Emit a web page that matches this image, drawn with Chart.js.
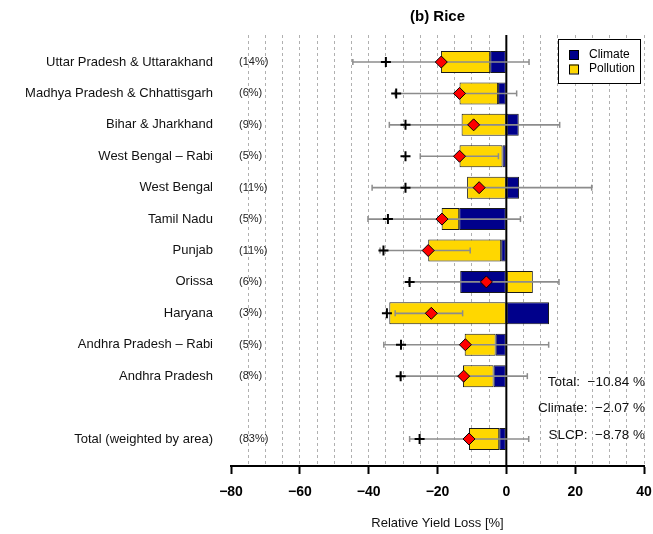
<!DOCTYPE html>
<html>
<head>
<meta charset="utf-8">
<script src="https://cdn.jsdelivr.net/npm/chart.js@4.4.1/dist/chart.umd.min.js"></script>
<style>
  html, body { margin: 0; padding: 0; background: #fff; }
  #wrap { width: 653px; height: 534px; }
</style>
</head>
<body>
<div id="wrap"><canvas id="rice"></canvas></div>
<script>
// panel (b) Rice - relative yield loss [%]
const regions = ['Uttar Pradesh & Uttarakhand', 'Madhya Pradesh & Chhattisgarh', 'Bihar & Jharkhand',
  'West Bengal \u2013 Rabi', 'West Bengal', 'Tamil Nadu', 'Punjab', 'Orissa', 'Haryana',
  'Andhra Pradesh \u2013 Rabi', 'Andhra Pradesh', 'Total (weighted by area)'];
const rowPos = [13, 12, 11, 10, 9, 8, 7, 6, 5, 4, 3, 1];   // row 2 stays empty above the total
const areaShare = [14, 6, 9, 5, 11, 5, 11, 6, 3, 5, 8, 83];
const climate   = [-4.7, -2.4, 3.6, -1.1, 3.7, -13.7, -1.5, -13.4, 12.4, -3.1, -3.7, -2.07];
const pollution = [-14.3, -11.2, -13.0, -12.5, -11.4, -5.1, -21.2, 7.7, -34.0, -9.0, -8.9, -8.78];
const combined  = [-18.9, -13.6, -9.5, -13.6, -7.9, -18.7, -22.7, -5.8, -21.8, -11.9, -12.4, -10.84];
const rangeLo   = [-44.6, -32.3, -34.0, -25.0, -39.0, -40.2, -36.7, -28.3, -32.3, -35.6, -30.8, -28.1];
const rangeHi   = [6.6, 3.0, 15.5, -2.3, 24.8, 4.1, -10.5, 15.3, -12.7, 12.3, 6.1, 6.5];
const crossVals = [-35.0, -32.0, -29.3, -29.3, -29.3, -34.4, -35.7, -28.1, -34.7, -30.6, -30.7, -25.2];
const xTicks = [-80, -60, -40, -20, 0, 20, 40];
const noteLabels = ['Total:', 'Climate:', 'SLCP:'];
const noteValues = [-10.84, -2.07, -8.78];

const FONT = '"Liberation Sans", Arial, Helvetica, sans-serif';
const fmt = v => v < 0 ? '\u2212' + Math.abs(v) : String(v);
const pts = vals => vals.map((v, i) => ({ x: v, y: rowPos[i] }));

const extras = {
  id: 'extras',
  beforeDatasetsDraw(chart) {
    const { ctx, chartArea: a, scales: { x } } = chart;
    const x0 = x.getPixelForValue(0);
    ctx.save();
    ctx.strokeStyle = '#000'; ctx.lineWidth = 2;
    ctx.beginPath(); ctx.moveTo(x0, a.top); ctx.lineTo(x0, a.bottom); ctx.stroke();
    ctx.restore();
  },
  afterDraw(chart) {
    const { ctx, chartArea: a, scales: { y } } = chart;
    ctx.save();
    ctx.textBaseline = 'middle';
    // area shares next to the axis
    ctx.font = '11px ' + FONT; ctx.fillStyle = '#222'; ctx.textAlign = 'left';
    areaShare.forEach((s, i) => ctx.fillText('(' + s + '%)', a.left + 8, y.getPixelForValue(rowPos[i])));
    // totals text
    ctx.font = '13.5px ' + FONT; ctx.fillStyle = '#111'; ctx.textAlign = 'right';
    noteLabels.forEach((t, i) => ctx.fillText(t + '  ' + fmt(noteValues[i]) + ' %', a.right + 1, a.bottom - 84 + i * 26.5));
    // legend box
    const bx = a.right - 86, by = a.top + 4, bw = 82, bh = 44;
    ctx.fillStyle = '#fff'; ctx.fillRect(bx, by, bw, bh);
    ctx.strokeStyle = '#000'; ctx.lineWidth = 1; ctx.strokeRect(bx + 0.5, by + 0.5, bw, bh);
    ctx.font = '12px ' + FONT; ctx.textAlign = 'left';
    chart.data.datasets.filter(d => d.inLegend).forEach((d, i) => {
      const cy = by + 15.5 + i * 14.5;
      ctx.fillStyle = d.backgroundColor; ctx.fillRect(bx + 11, cy - 4.5, 9, 9);
      ctx.strokeRect(bx + 11.5, cy - 4, 9, 9);
      ctx.fillStyle = '#000'; ctx.fillText(d.label, bx + 31, cy);
    });
    ctx.restore();
  }
};

new Chart(document.getElementById('rice'), {
  type: 'bar',
  data: {
    datasets: [
      { label: 'Climate', inLegend: true, indexAxis: 'y', data: pts(climate), stack: 'bars', order: 5,
        backgroundColor: '#00008B', borderColor: '#1a1a1a', borderWidth: 1, borderSkipped: false,
        grouped: false, maxBarThickness: 22 },
      { label: 'Pollution', inLegend: true, indexAxis: 'y', data: pts(pollution), stack: 'bars', order: 5,
        backgroundColor: '#FFD700', borderColor: '#1a1a1a', borderWidth: 1, borderSkipped: false,
        grouped: false, maxBarThickness: 22 },
      { label: 'range', indexAxis: 'y', stack: 'err', order: 4, grouped: false, maxBarThickness: 1.6,
        data: rangeLo.map((lo, i) => ({ x: [lo, rangeHi[i]], y: rowPos[i] })),
        backgroundColor: '#8c8c8c', borderWidth: 0 },
      { type: 'scatter', label: 'lo', data: pts(rangeLo), order: 3, pointStyle: 'line', rotation: 90,
        radius: 3, borderColor: '#8c8c8c', borderWidth: 1.5 },
      { type: 'scatter', label: 'hi', data: pts(rangeHi), order: 3, pointStyle: 'line', rotation: 90,
        radius: 3, borderColor: '#8c8c8c', borderWidth: 1.5 },
      { type: 'scatter', label: 'cross', data: pts(crossVals), order: 2, pointStyle: 'cross',
        radius: 5, borderColor: '#000', borderWidth: 2 },
      { type: 'scatter', label: 'total', data: pts(combined), order: 1, pointStyle: 'rectRot',
        radius: 6, backgroundColor: '#FF0000', borderColor: '#000', borderWidth: 1 }
    ]
  },
  options: {
    responsive: true, maintainAspectRatio: false, animation: false,
    layout: { padding: { left: 0, right: 0, top: 0, bottom: 0 } },
    plugins: { legend: { display: false }, tooltip: { enabled: false } },
    scales: {
      x: {
        type: 'linear', min: -80, max: 40, stacked: true, offset: false,
        afterFit: s => { s.height = 68; s.paddingRight = 9; },
        grid: {
          offset: false,
          color: c => c.tick && c.tick.value === -80 ? 'rgba(0,0,0,0)' : '#b0b0b0',
          lineWidth: 1, tickLength: 8, tickWidth: 2,
          tickColor: c => c.tick && xTicks.includes(c.tick.value) ? '#000' : 'rgba(0,0,0,0)'
        },
        border: { display: true, color: '#000', width: 2, dash: [3, 3] },
        ticks: {
          stepSize: 5, autoSkip: false, maxRotation: 0, padding: 10, color: '#000',
          font: { family: FONT, size: 14, weight: 'bold' },
          callback: v => xTicks.includes(v) ? fmt(v) : ''
        },
        title: { display: true, text: 'Relative Yield Loss [%]', color: '#111',
          font: { family: FONT, size: 13 }, padding: { top: 0, bottom: 3 } }
      },
      x2: {
        type: 'linear', position: 'top', min: -80, max: 40, offset: false,
        afterFit: s => { s.height = 35; s.paddingRight = 0; s.paddingLeft = 0; },
        grid: { display: false }, border: { display: false }, ticks: { display: false },
        title: { display: true, text: '(b) Rice', color: '#000',
          font: { family: FONT, size: 15, weight: 'bold' }, padding: { top: 8, bottom: 0 } }
      },
      y: {
        type: 'linear', min: 0.14, max: 13.86, offset: false,
        afterFit: s => { s.width = 231; },
        afterBuildTicks: s => { s.ticks = rowPos.map(v => ({ value: v })); },
        grid: { display: false, offset: false, drawTicks: false, tickLength: 0 },
        border: { display: false },
        ticks: {
          padding: 18, color: '#111', autoSkip: false,
          font: { family: FONT, size: 13 },
          callback: v => { const i = rowPos.indexOf(v); return i < 0 ? '' : regions[i]; }
        }
      }
    }
  },
  plugins: [extras]
});
</script>
</body>
</html>
